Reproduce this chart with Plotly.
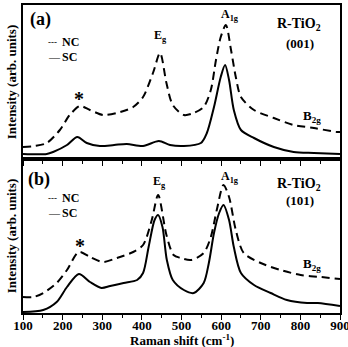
import plotly.graph_objects as go
from plotly.subplots import make_subplots

# ---------------- data (Raman shift in cm^-1, intensity in arb. units) ----------------
wn_a_nc = [100, 130, 160, 193, 218, 244, 269, 302, 337, 378, 403, 428, 446, 462, 478,
           506, 531, 556, 574, 587, 599, 612, 625, 637, 650, 683, 733, 783, 834, 892, 900]
int_a_nc = [12, 13, 16, 29, 44, 53, 49, 44, 46, 52, 62, 86, 106, 76, 54,
            44, 46, 52, 69, 99, 122, 134, 109, 82, 62, 49, 41, 34, 31, 27, 27]

wn_a_sc = [100, 160, 176, 211, 237, 261, 294, 330, 362, 403, 443, 471, 506, 549, 564,
           582, 599, 610, 620, 632, 650, 683, 733, 783, 834, 900]
int_a_sc = [5, 5, 7, 14, 22, 16, 13, 14, 15, 13, 18, 14, 13, 16, 26,
            52, 82, 94, 79, 49, 29, 21, 12, 7, 6, 5]

wn_b_nc = [100, 126, 151, 185, 211, 241, 269, 302, 337, 378, 403, 425, 441, 462, 480,
           498, 524, 556, 574, 589, 606, 620, 637, 657, 700, 750, 801, 851, 900]
int_b_nc = [16, 16, 20, 30, 43, 61, 56, 51, 55, 61, 68, 93, 118, 78, 58,
            55, 53, 60, 76, 103, 128, 116, 83, 60, 50, 43, 38, 36, 34]

wn_b_sc = [100, 151, 185, 211, 241, 269, 298, 320, 354, 388, 403, 417, 432, 441, 452,
           463, 478, 506, 531, 556, 569, 582, 595, 606, 620, 632, 650, 683, 725, 766,
           817, 844, 900]
int_b_sc = [1, 3, 11, 26, 39, 31, 25, 27, 30, 33, 40, 66, 93, 98, 86,
            53, 33, 23, 20, 30, 50, 80, 100, 108, 93, 66, 40, 28, 20, 13,
            10, 10, 7]

x_ticks = [100, 200, 300, 400, 500, 600, 700, 800, 900]
x_ticklabels = ["100", "200", "300", "400", "500", "600", "700", "800", "900"]

FONT = "Liberation Serif"

fig = make_subplots(rows=2, cols=1, shared_xaxes=True, vertical_spacing=0)

dash_style = "8px,5px"
for row, (wn_nc, i_nc, wn_sc, i_sc) in enumerate(
        [(wn_a_nc, int_a_nc, wn_a_sc, int_a_sc), (wn_b_nc, int_b_nc, wn_b_sc, int_b_sc)], start=1):
    fig.add_trace(go.Scatter(x=wn_nc, y=i_nc, mode="lines", name="NC", showlegend=False,
                             line=dict(color="black", width=2, dash=dash_style,
                                       shape="spline", smoothing=0.8)), row=row, col=1)
    fig.add_trace(go.Scatter(x=wn_sc, y=i_sc, mode="lines", name="SC", showlegend=False,
                             line=dict(color="black", width=2, shape="spline", smoothing=0.8)),
                  row=row, col=1)

axis_common = dict(showgrid=False, zeroline=False, showline=True, linecolor="black",
                   linewidth=1.5, mirror=True)

for row in (1, 2):
    fig.update_xaxes(range=[100, 900], tickvals=x_ticks, ticktext=x_ticklabels,
                     ticks="outside", ticklen=5, tickwidth=1.3, tickcolor="black",
                     minor=dict(dtick=50, tick0=100, ticks="outside", ticklen=3,
                                tickwidth=1.2, tickcolor="black"),
                     showticklabels=(row == 2), ticklabeloverflow="allow",
                     ticklabelstandoff=-5,
                     tickfont=dict(family=FONT, size=13, color="black", weight="bold"),
                     **axis_common, row=row, col=1)
    fig.update_yaxes(range=[0, 154], showticklabels=False, ticks="",
                     title=dict(text="Intensity (arb. units)",
                                font=dict(family=FONT, size=13, color="black", weight="bold"),
                                standoff=2),
                     **axis_common, row=row, col=1)

# x-axis title
fig.add_annotation(text="Raman shift (cm<sup>-1</sup>)", x=0.5, y=-0.087, xref="paper",
                   yref="paper", showarrow=False, xanchor="center", yanchor="middle",
                   font=dict(family=FONT, size=13, color="black", weight="bold"))


def ann(text, x, y, row, size=13, xanchor="center"):
    ref = "" if row == 1 else "2"
    fig.add_annotation(text=text, x=x, y=y, xref="x" + ref, yref="y" + ref,
                       showarrow=False, xanchor=xanchor, yanchor="middle",
                       font=dict(family=FONT, size=size, color="black", weight="bold"))


def legend_entry(symbol, label, y, row, sym_size):
    ann(symbol, 159, y, row, size=sym_size, xanchor="left")
    ann(label, 194, y, row, size=12, xanchor="left")


# panel (a)
ann("(a)", 143, 140, 1, size=18)
ann("*", 241, 60, 1, size=20)
ann("E<sub>g</sub>", 448, 123, 1, size=12)
ann("A<sub>1g</sub>", 623, 144, 1, size=12)
ann("B<sub>2g</sub>", 829, 43, 1)
ann("R-TiO<sub>2</sub>", 796, 135, 1, size=14)
ann("(001)", 799, 116, 1)
legend_entry("---", "NC", 117, 1, 9)
legend_entry("—", "SC", 102, 1, 11)

# panel (b)
ann("(b)", 140, 134, 2, size=18)
ann("*", 244, 67, 2, size=20)
ann("E<sub>g</sub>", 445, 131, 2, size=12)
ann("A<sub>1g</sub>", 623, 136, 2, size=12)
ann("B<sub>2g</sub>", 829, 49, 2)
ann("R-TiO<sub>2</sub>", 796, 129, 2, size=14)
ann("(101)", 799, 113, 2)
legend_entry("---", "NC", 115.5, 2, 9)
legend_entry("—", "SC", 100, 2, 11)

fig.update_layout(width=348, height=347, margin=dict(l=23, r=8, t=5, b=34, autoexpand=False),
                  paper_bgcolor="white", plot_bgcolor="white", showlegend=False,
                  font=dict(family=FONT, color="black"))

fig.write_html("out.html")
